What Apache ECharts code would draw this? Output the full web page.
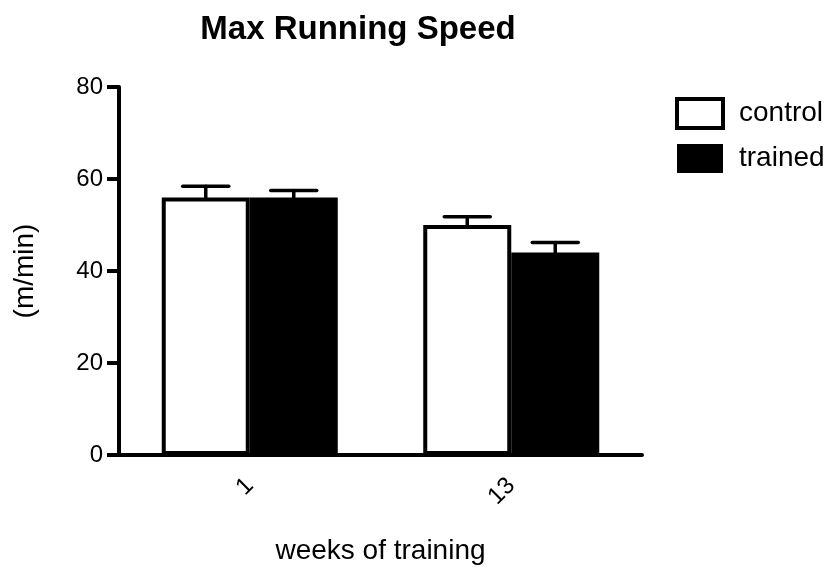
<!DOCTYPE html>
<html>
<head>
<meta charset="utf-8">
<script src="https://cdn.jsdelivr.net/npm/echarts@6/dist/echarts.min.js"></script>
<style>
  html, body { margin: 0; padding: 0; background: #fff; }
  #chart { width: 830px; height: 571px; }
</style>
</head>
<body>
<div id="chart"></div>
<script>
// Weeks of training (x categories)
const weeks = ['1', '13'];
// Mean max running speed (m/min)
const controlMean = [56, 50];
const trainedMean = [56, 44];
// Standard error (upper whisker only)
const controlErr = [2.4, 1.8];
const trainedErr = [1.5, 2.2];
const yTicks = [0, 20, 40, 60, 80];

const FONT = 'Liberation Sans, Arial, sans-serif';
const BAR_W = 88;

// Upper-only error whiskers centred on each bar of the pair
function errorSeries(name, means, errs, offset) {
  return {
    name: name + ' SEM',
    type: 'custom',
    silent: true,
    z: 5,
    data: means.map((m, i) => [i, m, m + errs[i]]),
    renderItem: function (params, api) {
      const base = api.coord([api.value(0), api.value(1)]);
      const top = api.coord([api.value(0), api.value(2)]);
      const x = base[0] + offset;
      const half = 23;
      const style = { stroke: '#000', lineWidth: 3.5, fill: null, lineCap: 'round' };
      return {
        type: 'group',
        children: [
          { type: 'line', shape: { x1: x, y1: base[1], x2: x, y2: top[1] }, style: style },
          { type: 'line', shape: { x1: x - half, y1: top[1], x2: x + half, y2: top[1] }, style: style }
        ]
      };
    }
  };
}

const chart = echarts.init(document.getElementById('chart'));
chart.setOption({
  animation: false,
  backgroundColor: '#fff',
  title: {
    text: 'Max Running Speed',
    left: 358,
    top: 13,
    textAlign: 'center',
    padding: 0,
    textStyle: { fontFamily: FONT, fontSize: 33, fontWeight: 'bold', color: '#000' }
  },
  legend: {
    orient: 'vertical',
    left: 675,
    top: 97,
    padding: 0,
    itemWidth: 46,
    itemHeight: 29,
    itemGap: 14,
    icon: 'rect',
    textStyle: { fontFamily: FONT, fontSize: 28, color: '#000', padding: [0, 0, 0, 11] },
    data: [
      { name: 'control', itemStyle: { color: '#fff', borderColor: '#000', borderWidth: 4 } },
      { name: 'trained', itemStyle: { color: '#000', borderWidth: 0 } }
    ]
  },
  grid: { left: 119, right: 188, top: 87, bottom: 116, containLabel: false },
  xAxis: {
    type: 'category',
    data: weeks,
    name: 'weeks of training',
    nameLocation: 'middle',
    nameGap: 82,
    nameTextStyle: { fontFamily: FONT, fontSize: 28, color: '#000', verticalAlign: 'top' },
    axisLine: { lineStyle: { color: '#000', width: 4 } },
    axisTick: { alignWithLabel: true, length: 12, lineStyle: { color: '#000', width: 4 } },
    axisLabel: { rotate: 45, margin: 27, fontFamily: FONT, fontSize: 24, color: '#000' }
  },
  yAxis: {
    type: 'value',
    min: 0,
    max: 80,
    interval: 20,
    name: '(m/min)',
    nameLocation: 'middle',
    nameGap: 80,
    nameRotate: 90,
    nameTextStyle: { fontFamily: FONT, fontSize: 28, color: '#000' },
    splitLine: { show: false },
    axisLine: { show: true, lineStyle: { color: '#000', width: 4 } },
    axisTick: { show: true, length: 12, lineStyle: { color: '#000', width: 4 } },
    axisLabel: {
      margin: 16, fontFamily: FONT, fontSize: 24, color: '#000',
      formatter: v => (yTicks.indexOf(v) >= 0 ? String(v) : '')
    }
  },
  series: [
    {
      name: 'control',
      type: 'bar',
      data: controlMean,
      barWidth: BAR_W,
      barGap: '0%',
      itemStyle: { color: '#fff', borderColor: '#000', borderWidth: 4 },
      z: 2
    },
    {
      name: 'trained',
      type: 'bar',
      data: trainedMean,
      barWidth: BAR_W,
      barGap: '0%',
      itemStyle: { color: '#000', borderColor: '#000', borderWidth: 0 },
      z: 3
    },
    errorSeries('control', controlMean, controlErr, -BAR_W / 2),
    errorSeries('trained', trainedMean, trainedErr, BAR_W / 2)
  ]
});
</script>
</body>
</html>
